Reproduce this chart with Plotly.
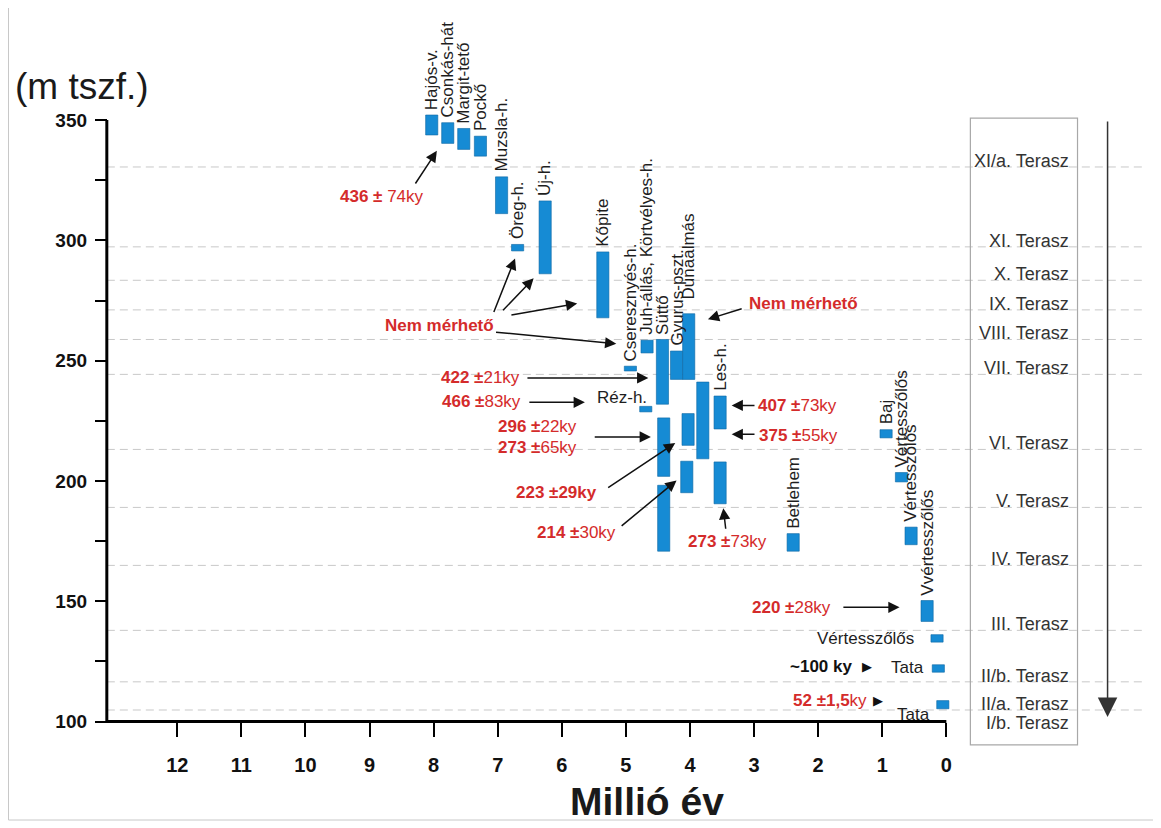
import plotly.graph_objects as go

# ---------------- data ----------------
site_labels = ["Hajós-v.", "Csonkás-hát", "Margit-tető", "Pockő", "Muzsla-h.", "Öreg-h.", "Új-h.",
               "Kőpite", "Cseresznyés-h.", "Juh-állás, Körtvélyes-h.", "Réz-h.", "Süttő",
               "Gyurus-pszt.", "Dunaalmás", "", "", "", "", "", "Les-h.", "", "Betlehem", "Baj",
               "Vértesszőlős", "Vértesszőlős", "Vvértesszőlős", "Vértesszőlős", "Tata", "Tata"]
age_ma = [8.03, 7.78, 7.53, 7.27, 6.94, 6.69, 6.26, 5.36, 4.93, 4.67, 4.69, 4.43, 4.21, 4.02,
          4.41, 4.41, 4.03, 4.05, 3.80, 3.53, 3.53, 2.39, 0.94, 0.70, 0.55, 0.30, 0.145, 0.125, 0.055]
elev_top = [352.1, 348.9, 346.5, 343.3, 326.4, 298.3, 316.4, 295.2, 247.7, 258.5, 231.0, 258.8,
            254.0, 269.5, 226.2, 198.2, 228.0, 208.2, 241.1, 235.3, 207.9, 178.1, 221.3, 203.5,
            180.8, 150.3, 136.1, 123.6, 108.7]
elev_bottom = [343.8, 340.3, 337.8, 335.0, 311.1, 295.6, 286.1, 267.8, 245.7, 253.2, 228.7, 231.9,
               242.2, 242.2, 201.9, 170.8, 214.8, 195.1, 209.2, 221.6, 190.5, 170.8, 217.9, 199.6,
               173.5, 141.6, 133.0, 120.5, 105.3]

terrace_names = ["XI/a. Terasz", "XI. Terasz", "X. Terasz", "IX. Terasz", "VIII. Terasz",
                 "VII. Terasz", "VI. Terasz", "V. Terasz", "IV. Terasz", "III. Terasz",
                 "II/b. Terasz", "II/a. Terasz"]
terrace_elev = [330.5, 297.3, 283.4, 271.1, 258.8, 244.3, 213.1, 189.0, 164.9, 137.9, 116.5, 104.8]
lowest_terrace_name = "I/b. Terasz"

x_tick_vals = list(range(0, 13))
x_tick_text = [str(v) for v in x_tick_vals]
y_tick_vals = [100, 150, 200, 250, 300, 350]
y_minor_vals = [125, 175, 225, 275, 325]

# age labels (text) -- red
age_texts = ["<b>436 ±</b> 74ky", "<b>Nem mérhető</b>", "<b>Nem mérhető</b>", "<b>422 ±</b>21ky",
             "<b>466 ±</b>83ky", "<b>296 ±</b>22ky", "<b>273 ±</b>65ky", "<b>223 ±29ky</b>",
             "<b>214 ±</b>30ky", "<b>273 ±</b>73ky", "<b>407 ±</b>73ky", "<b>375 ±</b>55ky",
             "<b>220 ±</b>28ky", "<b>52 ±1,5</b>ky"]

# ---------------- layout / positions ----------------
W, H = 1161, 828
PAGE_OFFSET = 8  # default body margin of the html page
ML, MR, MT, MB = 94 - PAGE_OFFSET, 16 + PAGE_OFFSET, 96 - PAGE_OFFSET, 80 + PAGE_OFFSET
X_RANGE = [13.3, -3.1]
Y_RANGE = [89, 360]
X_AXIS_START = 13.1
FONT = "Liberation Sans, Arial, Helvetica, sans-serif"
RED = "#d42b2b"
BLUE = "#168bd4"
TXT = "#1e1e1e"


def paper_x(px):
    return (px - PAGE_OFFSET - ML) / (W - ML - MR)


def paper_y(py):
    return (H - MB - (py - PAGE_OFFSET)) / (H - MT - MB)


# positions of the age-label texts (data coords)
age_pos = [(8.81, 318.4), (7.91, 264.7), (2.23, 273.9), (7.27, 242.8), (7.25, 233.2),
           (6.375, 222.8), (6.375, 214.1), (6.08, 195.1), (5.77, 178.7), (3.41, 175.0),
           (2.33, 231.4), (2.31, 219.0), (2.41, 147.5), (1.81, 108.7)]

# arrows: (tail_x, tail_y, head_x, head_y)
arrows = [(8.30, 323.0, 7.95, 337.2),
          (7.07, 269.6, 6.73, 292.5),
          (6.94, 270.3, 6.44, 284.2),
          (6.81, 268.9, 5.76, 273.8),
          (7.05, 261.9, 5.15, 257.0),
          (3.17, 271.8, 3.72, 267.2),
          (6.56, 242.8, 4.65, 242.8),
          (6.53, 232.7, 5.64, 232.7),
          (5.51, 218.3, 4.61, 218.3),
          (5.30, 196.8, 4.23, 215.8),
          (5.09, 180.8, 4.21, 200.2),
          (3.44, 179.5, 3.48, 188.7),
          (2.97, 231.4, 3.35, 231.4),
          (2.97, 219.4, 3.35, 219.4),
          (1.63, 147.5, 0.73, 147.5)]

# site labels drawn horizontally: index -> (x, y)
horizontal_labels = {10: (4.64, 234.8), 26: (0.469, 134.7), 27: (0.3125, 122.5), 28: (0.219, 102.9)}
label_extra_shift = {13: 9}

fig = go.Figure()

fig.add_trace(go.Bar(
    x=age_ma,
    y=[t - b for t, b in zip(elev_top, elev_bottom)],
    base=elev_bottom,
    width=0.19,
    marker=dict(color=BLUE, line=dict(color="#0b66a3", width=0.6)),
    hoverinfo="skip",
    showlegend=False,
))

shapes = []
# terrace dashed lines
for ev in terrace_elev:
    shapes.append(dict(type="line", xref="x", yref="y", x0=X_AXIS_START, x1=X_RANGE[1], y0=ev, y1=ev,
                       line=dict(color="#c8c8c8", width=1, dash="8px,5px"), layer="below"))
# axis lines
shapes.append(dict(type="line", xref="x", yref="y", x0=X_AXIS_START, x1=0, y0=100, y1=100,
                   line=dict(color="black", width=3)))
shapes.append(dict(type="line", xref="x", yref="y", x0=X_AXIS_START, x1=X_AXIS_START, y0=100, y1=350,
                   line=dict(color="black", width=3)))
# terrace box
shapes.append(dict(type="rect", xref="x", yref="y", x0=-0.375, x1=-2.047, y0=90.3, y1=350.8,
                   line=dict(color="#a8a8a8", width=1.2), fillcolor="rgba(0,0,0,0)"))
# outer frame (left, bottom, right edges)
frame_line = dict(color="#c8c8c8", width=1)
shapes.append(dict(type="line", xref="paper", yref="paper", x0=paper_x(8.5), x1=paper_x(8.5),
                   y0=paper_y(820), y1=paper_y(8), line=frame_line, layer="below"))
shapes.append(dict(type="line", xref="paper", yref="paper", x0=paper_x(8.5), x1=paper_x(1154),
                   y0=paper_y(820), y1=paper_y(820), line=frame_line, layer="below"))
shapes.append(dict(type="line", xref="paper", yref="paper", x0=paper_x(1154), x1=paper_x(1154),
                   y0=paper_y(820), y1=paper_y(8), line=frame_line, layer="below"))

ann = []
# site labels
for i, name in enumerate(site_labels):
    if not name:
        continue
    if i in horizontal_labels:
        hx, hy = horizontal_labels[i]
        ann.append(dict(x=hx, y=hy, xref="x", yref="y", text=name, showarrow=False,
                        xanchor="right", yanchor="middle",
                        font=dict(family=FONT, size=17, color=TXT)))
    else:
        ann.append(dict(x=age_ma[i], y=elev_top[i], xref="x", yref="y", text=name, showarrow=False,
                        textangle=-90, xanchor="center", yanchor="bottom",
                        yshift=3 + label_extra_shift.get(i, 0),
                        font=dict(family=FONT, size=17, color=TXT)))

# age texts
for txt, (ax_, ay_) in zip(age_texts, age_pos):
    ann.append(dict(x=ax_, y=ay_, xref="x", yref="y", text=txt, showarrow=False,
                    xanchor="center", yanchor="middle",
                    font=dict(family=FONT, size=17, color=RED)))
ann.append(dict(x=1.95, y=122.9, xref="x", yref="y", text="<b>~100 ky</b>", showarrow=False,
                xanchor="center", yanchor="middle", font=dict(family=FONT, size=17, color="#111")))
for tx, ty in [(1.24, 122.9), (1.06, 108.7)]:
    ann.append(dict(x=tx, y=ty, xref="x", yref="y", text="▶", showarrow=False,
                    xanchor="center", yanchor="middle",
                    font=dict(family="DejaVu Sans", size=13, color="#111")))

# arrows
for (tx, ty, hx, hy) in arrows:
    ann.append(dict(x=hx, y=hy, ax=tx, ay=ty, xref="x", yref="y", axref="x", ayref="y",
                    text="", showarrow=True, arrowhead=2, arrowsize=1.5, arrowwidth=1.5,
                    arrowcolor="#111"))
# big down arrow
ann.append(dict(x=-2.516, y=101.9, ax=-2.516, ay=350.0, xref="x", yref="y", axref="x", ayref="y",
                text="", showarrow=True, arrowhead=2, arrowsize=2.6, arrowwidth=1.5,
                arrowcolor="#333"))

# terrace labels
for name, ev in zip(terrace_names, terrace_elev):
    ann.append(dict(x=-1.9375, y=ev, xref="x", yref="y", text=name, showarrow=False,
                    xanchor="right", yanchor="middle", yshift=6,
                    font=dict(family=FONT, size=18, color="#333")))
ann.append(dict(x=-1.9375, y=99.2, xref="x", yref="y", text=lowest_terrace_name, showarrow=False,
                xanchor="right", yanchor="middle", font=dict(family=FONT, size=18, color="#333")))

# axis titles
ann.append(dict(x=paper_x(82), y=paper_y(86), xref="paper", yref="paper", text="(m tszf.)",
                showarrow=False, xanchor="center", yanchor="middle",
                font=dict(family=FONT, size=37, color="#1a1a1a")))
ann.append(dict(x=paper_x(647), y=paper_y(801), xref="paper", yref="paper", text="<b>Millió év</b>",
                showarrow=False, xanchor="center", yanchor="middle",
                font=dict(family=FONT, size=39, color="#1a1a1a")))

fig.update_layout(
    width=W, height=H,
    margin=dict(l=ML, r=MR, t=MT, b=MB, autoexpand=False),
    plot_bgcolor="white", paper_bgcolor="white",
    barmode="overlay", showlegend=False,
    shapes=shapes, annotations=ann,
    xaxis=dict(range=X_RANGE, anchor="free", automargin=False,
               position=(100 - Y_RANGE[0]) / (Y_RANGE[1] - Y_RANGE[0]),
               tickmode="array", tickvals=x_tick_vals, ticktext=x_tick_text,
               ticks="outside", ticklen=14, tickwidth=2, tickcolor="black",
               showgrid=False, zeroline=False, showline=False, ticklabelstandoff=11,
               tickfont=dict(family=FONT, size=20, color="#111", weight="bold")),
    yaxis=dict(range=Y_RANGE, anchor="free", automargin=False,
               position=(X_RANGE[0] - X_AXIS_START) / (X_RANGE[0] - X_RANGE[1]),
               tickmode="array", tickvals=y_tick_vals,
               ticks="outside", ticklen=12, tickwidth=2, tickcolor="black",
               minor=dict(tickmode="array", tickvals=y_minor_vals, ticks="outside", ticklen=12,
                          tickwidth=2, tickcolor="black", showgrid=False),
               showgrid=False, zeroline=False, showline=False, ticklabelstandoff=4,
               tickfont=dict(family=FONT, size=19, color="#111", weight="bold")),
)

fig.write_html("out.html")
